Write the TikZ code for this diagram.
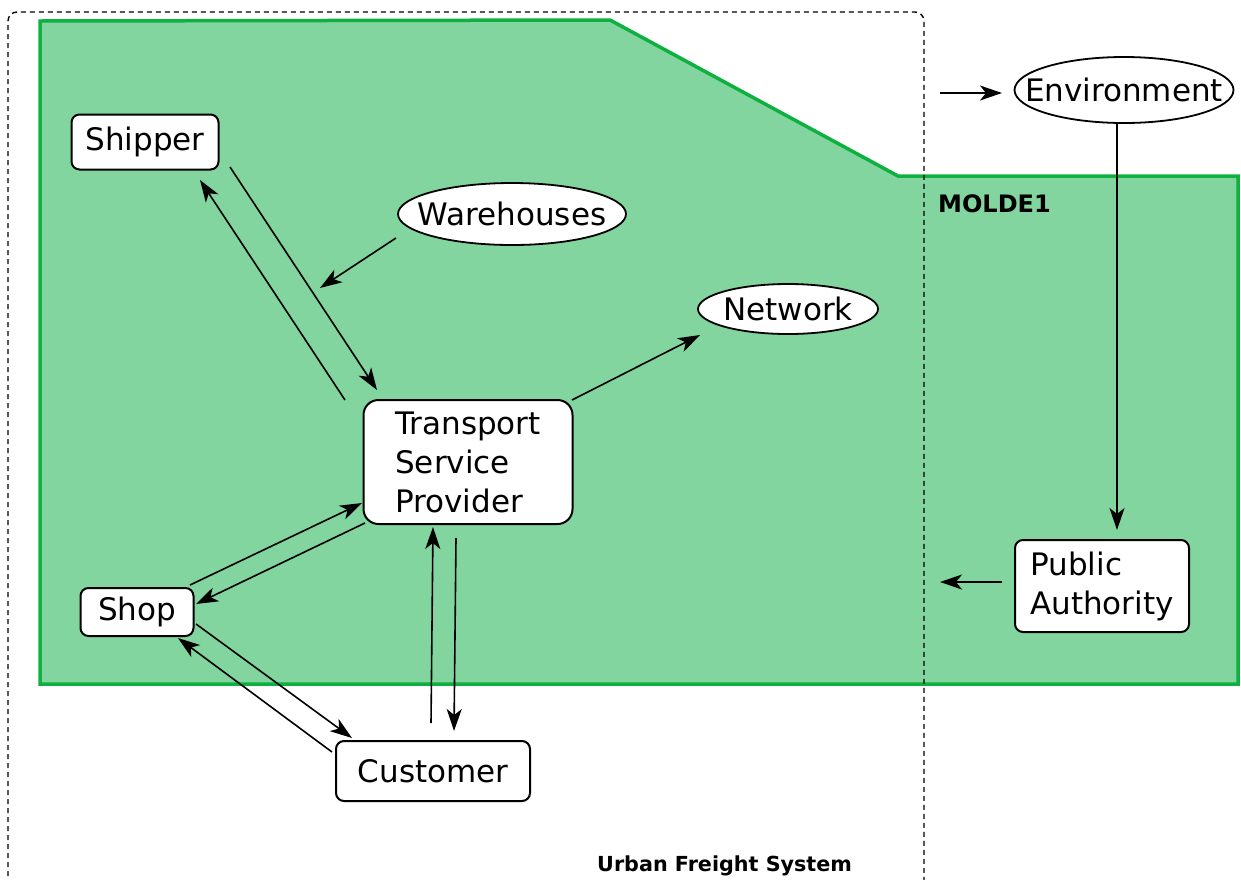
\documentclass[tikz,border=0pt]{standalone}
\usepackage{fontspec}
\setmainfont{DejaVu Sans}
\usetikzlibrary{arrows.meta,shapes.geometric}
\definecolor{zonefill}{RGB}{130,213,158}
\definecolor{zoneline}{RGB}{14,176,64}
\tikzset{
  actor/.style={draw, fill=white, line width=2pt, rounded corners=8pt,
    inner sep=0pt, font=\fontsize{31}{39}\selectfont, align=left},
  factor/.style={draw, fill=white, ellipse, line width=1.8pt, inner sep=0pt},
  lbl/.style={inner sep=0pt, font=\fontsize{31}{39}\selectfont},
  flow/.style={line width=1.6pt, -{Stealth[length=22pt,width=15pt,inset=6pt]}},
  tag/.style={font=\bfseries, anchor=base west, inner sep=0pt}
}
\begin{document}
\begin{tikzpicture}[x=1pt,y=-1pt]
\useasboundingbox (0,0) rectangle (1241,879);
% MOLDE1 zone
\draw[fill=zonefill, draw=zoneline, line width=3.5pt]
  (40,21) -- (610,20) -- (898,176) -- (1238,176) -- (1238,684) -- (40,684) -- cycle;
% system boundary
\draw[dashed, dash pattern=on 5pt off 4pt, line width=1.4pt, rounded corners=9pt]
  (8,885) -- (8,12) -- (924,12) -- (924,885);
\node[tag, font=\fontsize{24}{28}\bfseries\selectfont] (molde) at (938,212) {MOLDE1};
\node[tag, font=\fontsize{20.7}{25}\bfseries\selectfont] (ufs) at (597,871) {Urban Freight System};

% actors
\node[actor, minimum width=147pt, minimum height=55pt] (ship) at (145,142) {Shipper};
\node[actor, minimum width=209pt, minimum height=124pt, rounded corners=15pt] (tsp) at (468,462) {Transport\\Service\\Provider};
\node[actor, minimum width=113pt, minimum height=48pt] (shop) at (137,612) {Shop};
\node[actor, minimum width=194pt, minimum height=60pt] (cust) at (433,771) {Customer};
\node[actor, minimum width=174pt, minimum height=92pt] (pa) at (1102,586) {Public\\Authority};

% factors
\node[factor, minimum width=228pt, minimum height=62pt, label={[lbl]center:Warehouses}] (wh) at (512,214) {};
\node[factor, minimum width=180pt, minimum height=50pt, label={[lbl]center:Network}] (net) at (788,309) {};
\node[factor, minimum width=219pt, minimum height=66pt, label={[lbl]center:Environment}] (env) at (1124,90) {};

% free ends
\coordinate (whend) at (320,288);
\coordinate (envin) at (940,93);
\coordinate (paout) at (940,582);

% flows
\draw[flow] ([shift={(85,25)}]ship.center) -- ([shift={(-91,-72)}]tsp.center);
\draw[flow] ([shift={(-123,-62)}]tsp.center) -- ([shift={(55,38)}]ship.center);
\draw[flow] ([shift={(-116,24)}]wh.center) -- (whend);
\draw[flow] ([shift={(104,-62)}]tsp.center) -- ([shift={(-88,26)}]net.center);
\draw[flow] ([shift={(53,-27)}]shop.center) -- ([shift={(-106,41)}]tsp.center);
\draw[flow] ([shift={(-103,61)}]tsp.center) -- ([shift={(59,-8)}]shop.center);
\draw[flow] ([shift={(59,12)}]shop.center) -- ([shift={(-81,-33)}]cust.center);
\draw[flow] ([shift={(-101,-19)}]cust.center) -- ([shift={(41,26)}]shop.center);
\draw[flow] ([shift={(-2,-48)}]cust.center) -- ([shift={(-35,65)}]tsp.center);
\draw[flow] ([shift={(-12,76)}]tsp.center) -- ([shift={(21,-40)}]cust.center);
\draw[flow] (envin) -- ([shift={(-122,3)}]env.center);
\draw[flow] ([shift={(-7,34)}]env.center) -- ([shift={(15,-56)}]pa.center);
\draw[flow] ([shift={(-100,-4)}]pa.center) -- (paout);
\end{tikzpicture}
\end{document}
